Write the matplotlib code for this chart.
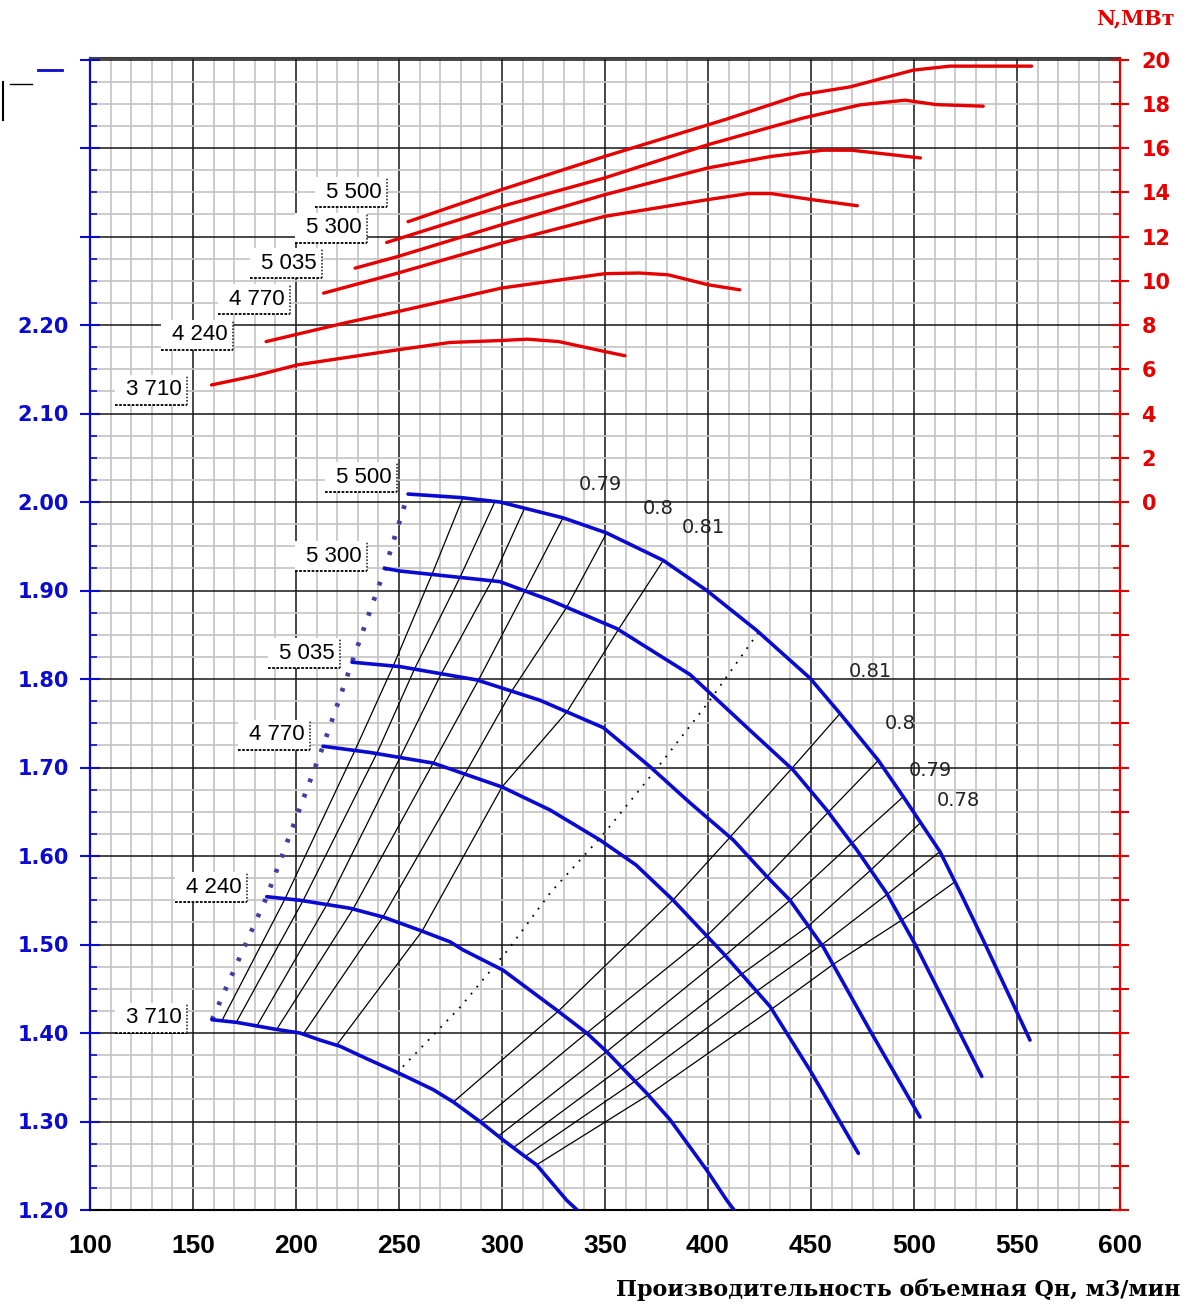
import matplotlib
matplotlib.use('Agg')
import matplotlib.pyplot as plt
import numpy as np
from matplotlib.ticker import MultipleLocator, FixedLocator, FuncFormatter
from matplotlib.lines import Line2D
from matplotlib.patches import Rectangle

plt.rcParams['font.family'] = ['Liberation Sans', 'DejaVu Sans']
plt.rcParams['font.weight'] = 'bold'

# ---------------- data ----------------
speeds = ['3 710', '4 240', '4 770', '5 035', '5 300', '5 500']

# pressure ratio curves H(Q)
q_3710 = [159.2, 171.2, 190.6, 201.9, 211.7, 221.4, 234.3, 250.5, 266.6, 276.4, 289.3, 300.6, 310.3, 316.8, 331.4, 339.3]
h_3710 = [1.415, 1.412, 1.404, 1.400, 1.392, 1.385, 1.371, 1.354, 1.336, 1.322, 1.300, 1.279, 1.262, 1.251, 1.211, 1.194]
q_4240 = [185.8, 201.9, 226.2, 242.4, 260.2, 274.8, 281.0, 300.5, 326.5, 341.1, 350.8, 370.2, 381.6, 399.4, 409.1, 414.6]
h_4240 = [1.554, 1.550, 1.541, 1.531, 1.516, 1.503, 1.494, 1.471, 1.426, 1.400, 1.379, 1.332, 1.302, 1.245, 1.211, 1.194]
q_4770 = [213.1, 235.9, 266.6, 300.0, 323.3, 347.6, 365.0, 383.1, 407.4, 430.1, 449.5, 473.0]
h_4770 = [1.724, 1.717, 1.705, 1.678, 1.652, 1.618, 1.590, 1.550, 1.490, 1.430, 1.358, 1.264]
q_5035 = [227.2, 250.5, 287.7, 318.4, 349.2, 371.8, 391.3, 412.3, 428.5, 439.8, 456.0, 478.6, 502.9]
h_5035 = [1.819, 1.814, 1.799, 1.776, 1.745, 1.701, 1.660, 1.618, 1.577, 1.550, 1.497, 1.403, 1.305]
q_5300 = [243.2, 250.5, 299.0, 323.3, 355.7, 391.3, 420.4, 441.4, 457.6, 472.2, 486.7, 501.3, 517.5, 532.9]
h_5300 = [1.925, 1.922, 1.910, 1.889, 1.857, 1.805, 1.742, 1.697, 1.652, 1.607, 1.558, 1.497, 1.422, 1.351]
q_5500 = [254.4, 280.0, 299.0, 329.8, 350.8, 378.3, 399.4, 423.6, 449.5, 464.1, 482.7, 494.8, 512.6, 523.9, 533.6, 556.3]
h_5500 = [2.009, 2.005, 2.000, 1.982, 1.965, 1.934, 1.900, 1.855, 1.801, 1.761, 1.708, 1.667, 1.605, 1.552, 1.505, 1.392]

# power curves N(Q), MW
nq_3710 = [159.0, 179.9, 200.8, 249.5, 274.7, 299.8, 312.3, 327.6, 349.9, 359.7]
n_3710 = [5.29, 5.70, 6.20, 6.88, 7.21, 7.30, 7.36, 7.25, 6.80, 6.61]
nq_4240 = [185.5, 224.5, 249.6, 299.8, 349.9, 366.6, 380.6, 400.0, 415.4]
n_4240 = [7.25, 8.11, 8.61, 9.67, 10.32, 10.35, 10.27, 9.82, 9.59]
nq_4770 = [213.4, 249.6, 299.8, 349.9, 400.1, 419.6, 430.7, 450.2, 472.5]
n_4770 = [9.44, 10.35, 11.70, 12.91, 13.67, 13.94, 13.94, 13.67, 13.39]
nq_5035 = [228.7, 249.6, 299.8, 349.9, 400.0, 430.7, 455.8, 469.7, 503.1]
n_5035 = [10.57, 11.10, 12.53, 13.89, 15.10, 15.62, 15.90, 15.90, 15.55]
nq_5300 = [244.0, 299.8, 349.9, 400.0, 446.0, 473.8, 495.6, 511.0, 533.6]
n_5300 = [11.73, 13.36, 14.65, 16.15, 17.35, 17.95, 18.16, 17.96, 17.89]
nq_5500 = [254.4, 299.8, 349.9, 408.5, 444.7, 468.9, 499.7, 517.5, 557.1]
n_5500 = [12.67, 14.12, 15.62, 17.29, 18.40, 18.76, 19.52, 19.70, 19.70]

# efficiency lines: Q where each line crosses the curves 3710..5500
eff_left = [
    [164.0, 194.7, 228.6, 247.2, 266.0, 281.0],
    [171.0, 203.4, 239.2, 257.5, 279.6, 296.6],
    [181.0, 215.0, 250.5, 270.5, 295.0, 311.0],
    [190.6, 227.7, 266.6, 288.5, 311.2, 329.6],
    [203.5, 242.2, 282.0, 304.7, 331.4, 350.8],
    [219.7, 261.2, 300.0, 331.5, 356.5, 378.3],
]
eff_right = [
    [276.4, 327.3, 383.0, 410.7, 440.6, 464.1],
    [289.3, 341.1, 399.4, 428.6, 458.4, 482.7],
    [298.2, 350.8, 408.3, 439.8, 469.8, 494.8],
    [305.5, 358.1, 416.3, 448.7, 479.0, 503.2],
    [311.2, 364.6, 423.6, 455.2, 487.0, 512.6],
    [316.8, 371.0, 430.9, 460.7, 494.0, 519.9],
]
# dotted optimum line
opt_q = [251.9, 279.6, 302.9, 323.3, 349.0, 375.2, 400.0, 425.2]
opt_h = [1.362, 1.429, 1.494, 1.558, 1.624, 1.699, 1.773, 1.855]

eff_top_labels = ['0.79', '0.8', '0.81']
eff_top_pos = [(347.6, 2.020), (375.7, 1.993), (397.6, 1.971)]
eff_right_labels = ['0.81', '0.8', '0.79', '0.78']
eff_right_pos = [(478.6, 1.808), (493.2, 1.750), (507.8, 1.697), (521.4, 1.663)]

hq_label_pos = [(147.1, 1.400), (176.2, 1.548), (206.8, 1.720), (221.4, 1.812), (234.5, 1.922), (249.0, 2.011)]
n_label_pos = [(147.1, 2.110), (169.4, 2.172), (197.1, 2.212), (212.6, 2.253), (234.5, 2.293), (244.2, 2.333)]

x_ticks = list(range(100, 601, 50))
y_ticks = [round(1.2 + 0.1 * i, 2) for i in range(14)]
n_ticks = list(range(-32, 21, 2))

# ---------------- figure ----------------
W, Hpx = 1186, 1304
fig = plt.figure(figsize=(W / 100, Hpx / 100), dpi=100)
ax = fig.add_axes([90 / W, 1 - 1210 / Hpx, 1030 / W, 1152 / Hpx])
ytop = 1.2 + 1152 / 885
ax.set_xlim(100, 600)
ax.set_ylim(1.2, ytop)

ax.xaxis.set_major_locator(FixedLocator(x_ticks))
ax.xaxis.set_minor_locator(MultipleLocator(10))
ax.yaxis.set_major_locator(FixedLocator(y_ticks))
ax.yaxis.set_minor_locator(MultipleLocator(0.025))
ax.yaxis.set_major_formatter(FuncFormatter(lambda v, p: f"{v:.2f}" if v <= 2.205 else ""))
ax.set_axisbelow(True)
ax.grid(which='minor', color='#c4c4c4', lw=1.2)
ax.grid(which='major', color='#151515', lw=1.1)

blue = '#0a0ad0'
red = '#e60000'
ax.tick_params(axis='x', which='both', length=0, pad=17, labelsize=19, labelcolor='black')
ax.tick_params(axis='y', which='major', direction='inout', length=14, width=1.5,
               color=blue, labelcolor=blue, labelsize=15, pad=8)
ax.tick_params(axis='y', which='minor', direction='in', length=5, width=1.2, color=blue)
for lab in ax.get_yticklabels():
    lab.set_family(['DejaVu Sans'])
ax.spines['left'].set_color(blue)
ax.spines['left'].set_linewidth(1.6)
ax.spines['bottom'].set_color('black')
ax.spines['bottom'].set_linewidth(1.5)
ax.spines['top'].set_color('#404040')
ax.spines['top'].set_linewidth(1.5)
ax.spines['right'].set_visible(False)

hq_curves = [(q_3710, h_3710), (q_4240, h_4240), (q_4770, h_4770),
             (q_5035, h_5035), (q_5300, h_5300), (q_5500, h_5500)]
for q, h in hq_curves:
    ax.plot(q, h, color=blue, lw=2.6, solid_capstyle='round', solid_joinstyle='round', zorder=4)

# surge line through curve starts
ax.plot([c[0][0] for c in hq_curves], [c[1][0] for c in hq_curves],
        color='#4040a0', lw=3.4, linestyle=(0, (0.8, 2.6)), zorder=3)

# efficiency lines
for fam in (eff_left, eff_right):
    for line in fam:
        hs = [np.interp(qv, cq, ch) for qv, (cq, ch) in zip(line, hq_curves)]
        ax.plot(line, hs, color='black', lw=0.9, zorder=3)
ax.plot(opt_q, opt_h, color='black', lw=1.3, linestyle=(0, (1, 4)), zorder=3)

for t, (x, y) in zip(eff_top_labels + eff_right_labels, eff_top_pos + eff_right_pos):
    ax.text(x, y, t, fontsize=14, fontweight='normal', family='DejaVu Sans', color='#222222',
            ha='center', va='center', zorder=5)

# right axis: power
ax2 = ax.twinx()
ax2.set_ylim((1.2 - 2.0) * 40, (ytop - 2.0) * 40)
ax2.yaxis.set_major_locator(FixedLocator(n_ticks))
ax2.yaxis.set_minor_locator(MultipleLocator(1))
ax2.yaxis.set_major_formatter(FuncFormatter(lambda v, p: f"{int(round(v))}" if v >= -0.01 else ""))
ax2.tick_params(axis='y', which='major', direction='inout', length=13, width=1.5,
                color=red, labelcolor=red, labelsize=15, pad=9)
ax2.tick_params(axis='y', which='minor', direction='in', length=5, width=1.2, color=red)
for lab in ax2.get_yticklabels():
    lab.set_family(['DejaVu Sans'])
for s in ('left', 'top', 'bottom'):
    ax2.spines[s].set_visible(False)
ax2.spines['right'].set_color(red)
ax2.spines['right'].set_linewidth(1.6)

n_curves = [(nq_3710, n_3710), (nq_4240, n_4240), (nq_4770, n_4770),
            (nq_5035, n_5035), (nq_5300, n_5300), (nq_5500, n_5500)]
for q, n in n_curves:
    ax2.plot(q, n, color=red, lw=2.4, solid_capstyle='round', solid_joinstyle='round', zorder=4)

# speed labels (boxed)
inv = fig.transFigure.inverted()
def speed_label(text, q, h):
    px, py = ax.transData.transform((q, h))
    bw, bh = 72, 30
    (x0, y0) = inv.transform((px - bw, py))
    (x1, y1) = inv.transform((px, py + bh))
    fig.add_artist(Rectangle((x0, y0), x1 - x0, y1 - y0, transform=fig.transFigure,
                             facecolor='white', edgecolor='none', zorder=5))
    fig.text(x1 - 5 / W, (y0 + y1) / 2, text, fontsize=16, fontweight='normal',
             ha='right', va='center', color='black', zorder=6)
    fig.add_artist(Line2D([x0, x1], [y0, y0], transform=fig.transFigure, color='black',
                          lw=1.3, linestyle=(0, (1.5, 0.8)), zorder=6))
    fig.add_artist(Line2D([x1, x1], [y0, y1], transform=fig.transFigure, color='#333333',
                          lw=1.2, linestyle=(0, (1, 1)), zorder=6))

for t, (q, h) in zip(speeds, hq_label_pos):
    speed_label(t, q, h)
for t, (q, h) in zip(speeds, n_label_pos):
    speed_label(t, q, h)

fig.text(1135 / W, 1 - 18 / Hpx, 'N,МВт', color=red, fontsize=15, fontweight='bold',
         family=['DejaVu Serif'], ha='center', va='center')
fig.text(1180 / W, 1 - 1290 / Hpx, 'Производительность объемная Qн, м3/мин',
         family=['DejaVu Serif'], fontweight='bold', fontsize=16,
         ha='right', va='center', color='black')

# small marks at top-left corner
fig.add_artist(Line2D([38 / W, 62 / W], [1 - 70 / Hpx] * 2, transform=fig.transFigure, color=blue, lw=2))
fig.add_artist(Line2D([10 / W, 32 / W], [1 - 84 / Hpx] * 2, transform=fig.transFigure, color='black', lw=1))
fig.add_artist(Line2D([3 / W, 3 / W], [1 - 82 / Hpx, 1 - 120 / Hpx], transform=fig.transFigure, color='black', lw=1.5))

fig.savefig('out.png', dpi=100, facecolor='white')
